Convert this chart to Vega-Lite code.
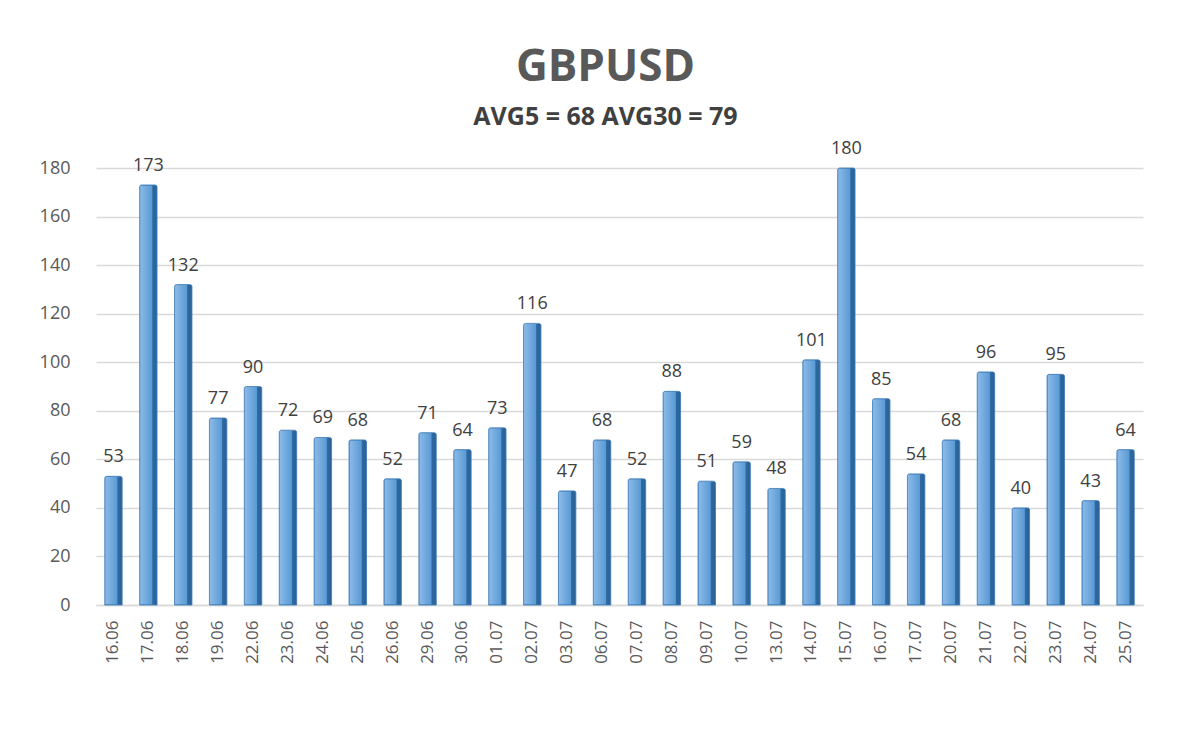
{
  "$schema": "https://vega.github.io/schema/vega-lite/v6.json",
  "autosize": "none",
  "width": 1047,
  "height": 437,
  "padding": {"left": 96, "top": 168, "right": 57, "bottom": 144},
  "background": "white",
  "config": {"view": {"stroke": null}, "font": "Open Sans"},
  "title": {
    "text": "GBPUSD",
    "subtitle": "AVG5 = 68 AVG30 = 79",
    "fontSize": 44,
    "fontWeight": "bold",
    "color": "#595959",
    "subtitleFontSize": 25,
    "subtitleFontWeight": "bold",
    "subtitleColor": "#404040",
    "subtitlePadding": 15,
    "offset": 10,
    "anchor": "middle",
    "dx": -14
  },
  "data": {
    "values": [
      {"date": "16.06", "value": 53}, {"date": "17.06", "value": 173}, {"date": "18.06", "value": 132},
      {"date": "19.06", "value": 77}, {"date": "22.06", "value": 90}, {"date": "23.06", "value": 72},
      {"date": "24.06", "value": 69}, {"date": "25.06", "value": 68}, {"date": "26.06", "value": 52},
      {"date": "29.06", "value": 71}, {"date": "30.06", "value": 64}, {"date": "01.07", "value": 73},
      {"date": "02.07", "value": 116}, {"date": "03.07", "value": 47}, {"date": "06.07", "value": 68},
      {"date": "07.07", "value": 52}, {"date": "08.07", "value": 88}, {"date": "09.07", "value": 51},
      {"date": "10.07", "value": 59}, {"date": "13.07", "value": 48}, {"date": "14.07", "value": 101},
      {"date": "15.07", "value": 180}, {"date": "16.07", "value": 85}, {"date": "17.07", "value": 54},
      {"date": "20.07", "value": 68}, {"date": "21.07", "value": 96}, {"date": "22.07", "value": 40},
      {"date": "23.07", "value": 95}, {"date": "24.07", "value": 43}, {"date": "25.07", "value": 64}
    ]
  },
  "encoding": {
    "x": {
      "field": "date", "type": "ordinal", "sort": null,
      "scale": {"paddingInner": 0.5, "paddingOuter": 0.25},
      "axis": {
        "title": null, "labelAngle": -90, "labelFontSize": 17, "labelColor": "#595959",
        "labelPadding": 15, "ticks": false, "domainColor": "#d9d9d9", "domainWidth": 1.5
      }
    },
    "y": {
      "field": "value", "type": "quantitative",
      "scale": {"domain": [0, 180]},
      "axis": {
        "title": null, "values": [0, 20, 40, 60, 80, 100, 120, 140, 160, 180],
        "labelFontSize": 18, "labelColor": "#595959", "labelPadding": 26,
        "ticks": false, "domain": false, "gridColor": "#d9d9d9", "gridWidth": 1.5
      }
    }
  },
  "layer": [
    {
      "mark": {
        "type": "bar",
        "color": {
          "gradient": "linear", "x1": 0, "x2": 1, "y1": 0, "y2": 0,
          "stops": [
            {"offset": 0, "color": "#8dbbe8"},
            {"offset": 0.7, "color": "#5b9bd5"},
            {"offset": 0.75, "color": "#2f6aa3"},
            {"offset": 1, "color": "#2a5f94"}
          ]
        },
        "stroke": "#3a78b5",
        "strokeWidth": 0.8,
        "cornerRadiusTopLeft": 2,
        "cornerRadiusTopRight": 2
      }
    },
    {
      "mark": {"type": "text", "baseline": "bottom", "dy": -10, "fontSize": 18, "color": "#404040"},
      "encoding": {"text": {"field": "value", "type": "quantitative"}}
    }
  ]
}
